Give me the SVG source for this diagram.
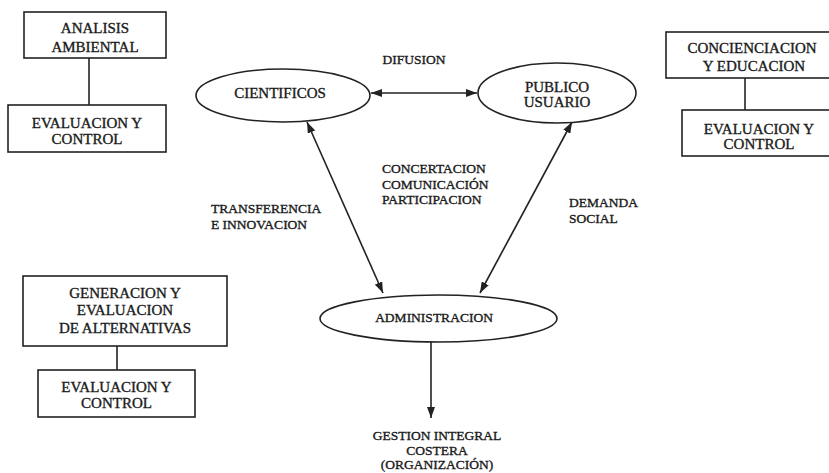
<svg xmlns="http://www.w3.org/2000/svg" width="829" height="473" viewBox="0 0 829 473">
<defs>
<style>
.box{fill:#fff;stroke:#222;stroke-width:1.6}
.ell{fill:#fff;stroke:#222;stroke-width:1.6}
.ln{stroke:#222;stroke-width:1.6;fill:none}
.t{font-family:"Liberation Serif","Times New Roman",serif;fill:#1a1a1a;stroke:#1a1a1a;stroke-width:0.35;text-anchor:middle}
.b{font-size:15px}
.s{font-size:13.5px}
.l{text-anchor:start}
</style>
<marker id="ah" viewBox="0 0 11 8" refX="11" refY="4" markerWidth="11" markerHeight="8" markerUnits="userSpaceOnUse" orient="auto-start-reverse">
<path d="M0,0 L11,4 L0,8 z" fill="#222"/>
</marker>
</defs>
<rect width="829" height="473" fill="#fff"/>
<g id="connectors">
<line class="ln" x1="89" y1="58" x2="89" y2="105"/>
<line class="ln" x1="745" y1="78" x2="745" y2="110"/>
<line class="ln" x1="117" y1="346" x2="117" y2="370"/>
<line class="ln" x1="371" y1="93" x2="477" y2="93" marker-start="url(#ah)" marker-end="url(#ah)"/>
<line class="ln" x1="307" y1="122" x2="383" y2="293" marker-start="url(#ah)" marker-end="url(#ah)"/>
<line class="ln" x1="572" y1="122" x2="480" y2="293" marker-start="url(#ah)" marker-end="url(#ah)"/>
<line class="ln" x1="431" y1="342" x2="431" y2="418" marker-end="url(#ah)"/>
</g>
<g id="analisis">
<rect class="box" x="24" y="12" width="142" height="46"/>
<text class="t b" x="95" y="33">ANALISIS</text>
<text class="t b" x="95" y="52">AMBIENTAL</text>
</g>
<g id="eval1">
<rect class="box" x="8" y="105" width="158" height="47"/>
<text class="t b" x="87" y="128">EVALUACION Y</text>
<text class="t b" x="87" y="144">CONTROL</text>
</g>
<g id="concienciacion">
<rect class="box" x="666" y="32" width="175" height="46"/>
<text class="t b" x="752" y="53">CONCIENCIACION</text>
<text class="t b" x="754" y="71">Y EDUCACION</text>
</g>
<g id="eval2">
<rect class="box" x="682" y="110" width="160" height="46"/>
<text class="t b" x="759" y="134">EVALUACION Y</text>
<text class="t b" x="759" y="149">CONTROL</text>
</g>
<g id="generacion">
<rect class="box" x="23" y="276" width="204" height="70"/>
<text class="t b" x="125" y="298">GENERACION Y</text>
<text class="t b" x="125" y="315">EVALUACION</text>
<text class="t b" x="125" y="333">DE ALTERNATIVAS</text>
</g>
<g id="eval3">
<rect class="box" x="38" y="370" width="157" height="47"/>
<text class="t b" x="116.5" y="392">EVALUACION Y</text>
<text class="t b" x="116.5" y="408">CONTROL</text>
</g>
<g id="cientificos">
<ellipse class="ell" cx="283" cy="95.5" rx="87" ry="26.5"/>
<text class="t b" x="280" y="98">CIENTIFICOS</text>
</g>
<g id="publico">
<ellipse class="ell" cx="557" cy="93" rx="79" ry="30"/>
<text class="t b" x="557" y="92">PUBLICO</text>
<text class="t b" x="557" y="107">USUARIO</text>
</g>
<g id="administracion">
<ellipse class="ell" cx="438.5" cy="318.5" rx="118.5" ry="23.5"/>
<text class="t s" x="434" y="322">ADMINISTRACION</text>
</g>
<g id="labels">
<text class="t s" x="414" y="64">DIFUSION</text>
<text class="t s l" x="211" y="213">TRANSFERENCIA</text>
<text class="t s l" x="211" y="229">E INNOVACION</text>
<text class="t s l" x="382" y="173">CONCERTACION</text>
<text class="t s l" x="382" y="189">COMUNICACIÓN</text>
<text class="t s l" x="382" y="204">PARTICIPACION</text>
<text class="t s l" x="569" y="207">DEMANDA</text>
<text class="t s l" x="569" y="223">SOCIAL</text>
<text class="t s" x="437" y="440">GESTION INTEGRAL</text>
<text class="t s" x="437" y="455">COSTERA</text>
<text class="t s" x="437" y="469">(ORGANIZACIÓN)</text>
</g>
</svg>
